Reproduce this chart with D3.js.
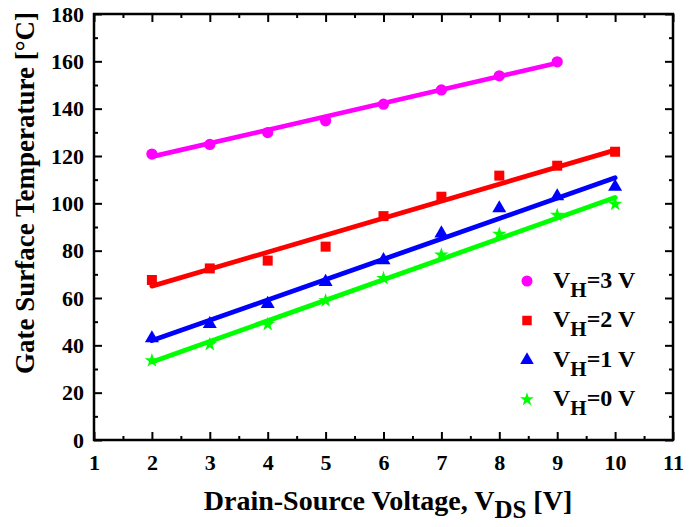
<!DOCTYPE html>
<html><head><meta charset="utf-8">
<script src="https://cdn.jsdelivr.net/npm/d3@7"></script>
<style>body{margin:0;background:#fff}svg{display:block}</style>
</head><body>
<svg id="c" width="699" height="527"></svg>
<script>
// ---- data ----
const xTicks = [1,2,3,4,5,6,7,8,9,10,11];
const yTicks = [0,20,40,60,80,100,120,140,160,180];
const seriesNames = ["3","2","1","0"];
const seriesColors = ["#ff00ff","#ff0000","#0000ff","#00ff00"];
const seriesSymbols = ["circle","square","triangle","star"];
const x3 = [2,3,4,5,6,7,8,9];
const y3 = [120.8,124.9,129.9,134.9,141.9,147.9,153.9,159.8];
const x2 = [2,3,4,5,6,7,8,9,10];
const y2 = [67.6,72.5,75.8,81.7,94.6,102.8,111.7,115.9,121.8];
const x1 = [2,3,4,5,6,7,8,9,10];
const y1 = [43,49,57.5,66.8,76,87.3,97.9,103,107];
const x0 = [2,3,4,5,6,7,8,9,10];
const y0 = [33.5,40.4,48.9,58.9,68.3,78.2,87,95,99.7];
// fitted lines: [x start, x end], [y start, y end]
const fitX = [[2,9],[2,10],[2,10],[2,10]];
const fitY = [[119.7,159.3],[65,122.5],[42,110.8],[33,102.5]];

const X = [x3,x2,x1,x0], Y = [y3,y2,y1,y0];

// ---- layout ----
const svg = d3.select("#c");
const L = 94, R = 673, T = 14, B = 440;
const xs = d3.scaleLinear().domain([1,11]).range([L,R]);
const ys = d3.scaleLinear().domain([0,180]).range([B,T]);
const font = "'Liberation Serif','Times New Roman',serif";

const symType = {circle:d3.symbolCircle, square:d3.symbolSquare, triangle:d3.symbolTriangle, star:d3.symbolStar};
const symSize = {circle:100, square:100, triangle:85, star:65};
const legSize = {circle:95, square:90, triangle:80, star:60};

// fit lines
fitX.forEach((fx,i)=>{
  svg.append("line")
    .attr("x1",xs(fx[0])).attr("y1",ys(fitY[i][0]))
    .attr("x2",xs(fx[1])).attr("y2",ys(fitY[i][1]))
    .attr("stroke",seriesColors[i]).attr("stroke-width",4.8).attr("stroke-linecap","round");
});
// markers
X.forEach((xa,i)=>{
  const s = seriesSymbols[i];
  svg.append("g").selectAll("path").data(xa.map((v,j)=>[v,Y[i][j]])).join("path")
    .attr("transform",d=>`translate(${xs(d[0])},${ys(d[1])})`)
    .attr("d",d3.symbol().type(symType[s]).size(symSize[s]))
    .attr("fill",seriesColors[i]);
});

// axes (ticks inward on all sides)
const tickLen = 8, minorLen = 4;
function styleAxis(g){
  g.selectAll(".domain").remove();
  g.selectAll("line").attr("stroke","#000").attr("stroke-width",2);
  g.selectAll("text").attr("font-family",font).attr("font-weight","bold").attr("font-size",22).attr("fill","#000");
}
const xMinor = d3.range(1.5,11,1);
const yMinor = d3.range(10,180,20);
// bottom
svg.append("g").attr("transform",`translate(0,${B})`)
  .call(d3.axisBottom(xs).tickValues(xTicks).tickFormat(d3.format("d")).tickSizeInner(-tickLen).tickSizeOuter(0).tickPadding(14))
  .call(styleAxis);
svg.append("g").attr("transform",`translate(0,${B})`)
  .call(d3.axisBottom(xs).tickValues(xMinor).tickFormat("").tickSizeInner(-minorLen).tickSizeOuter(0)).call(styleAxis);
// top
svg.append("g").attr("transform",`translate(0,${T})`)
  .call(d3.axisTop(xs).tickValues(xTicks).tickFormat("").tickSizeInner(-tickLen).tickSizeOuter(0)).call(styleAxis);
svg.append("g").attr("transform",`translate(0,${T})`)
  .call(d3.axisTop(xs).tickValues(xMinor).tickFormat("").tickSizeInner(-minorLen).tickSizeOuter(0)).call(styleAxis);
// left
svg.append("g").attr("transform",`translate(${L},0)`)
  .call(d3.axisLeft(ys).tickValues(yTicks).tickFormat(d3.format("d")).tickSizeInner(-tickLen).tickSizeOuter(0).tickPadding(10))
  .call(styleAxis);
svg.append("g").attr("transform",`translate(${L},0)`)
  .call(d3.axisLeft(ys).tickValues(yMinor).tickFormat("").tickSizeInner(-minorLen).tickSizeOuter(0)).call(styleAxis);
// right
svg.append("g").attr("transform",`translate(${R},0)`)
  .call(d3.axisRight(ys).tickValues(yTicks).tickFormat("").tickSizeInner(-tickLen).tickSizeOuter(0)).call(styleAxis);
svg.append("g").attr("transform",`translate(${R},0)`)
  .call(d3.axisRight(ys).tickValues(yMinor).tickFormat("").tickSizeInner(-minorLen).tickSizeOuter(0)).call(styleAxis);

// frame
svg.append("rect").attr("x",L).attr("y",T).attr("width",R-L).attr("height",B-T)
  .attr("fill","none").attr("stroke","#000").attr("stroke-width",2.5);

// axis titles
const xt = svg.append("text").attr("x",388).attr("y",510).attr("text-anchor","middle")
  .attr("font-family",font).attr("font-weight","bold").attr("font-size",28);
xt.append("tspan").text("Drain-Source Voltage, V");
xt.append("tspan").attr("dy",8).attr("font-size",25).text("DS");
xt.append("tspan").attr("dy",-8).text(" [V]");

svg.append("text").attr("transform","translate(34,193) rotate(-90)").attr("text-anchor","middle")
  .attr("font-family",font).attr("font-weight","bold").attr("font-size",27)
  .text("Gate Surface Temperature [°C]");

// legend
const legX = 527, legY0 = 281, legDy = 39.5;
seriesNames.forEach((n,i)=>{
  const s = seriesSymbols[i];
  const cy = legY0 + i*legDy;
  svg.append("path").attr("transform",`translate(${legX},${cy})`)
    .attr("d",d3.symbol().type(symType[s]).size(legSize[s])).attr("fill",seriesColors[i]);
  const t = svg.append("text").attr("x",553).attr("y",cy+6.5)
    .attr("font-family",font).attr("font-weight","bold").attr("font-size",24);
  t.append("tspan").text("V");
  t.append("tspan").attr("dy",9).attr("font-size",21).text("H");
  t.append("tspan").attr("dy",-9).text("=" + n + " V");
});
</script>
</body></html>
